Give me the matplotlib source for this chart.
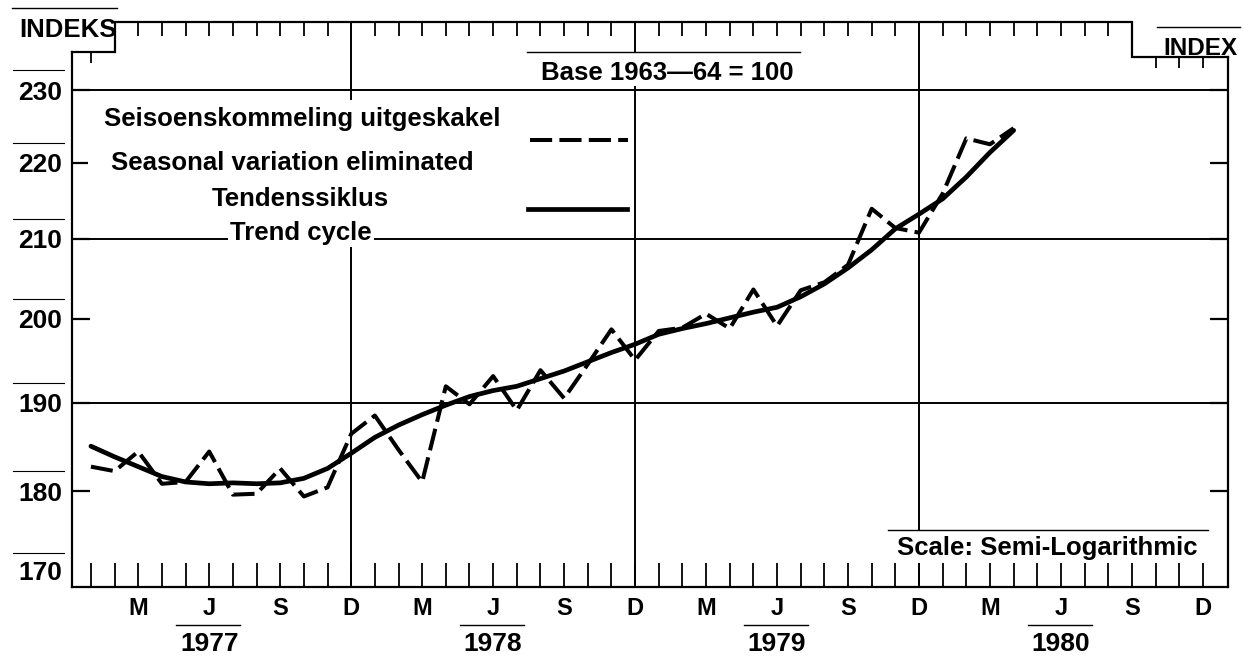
import numpy as np
import matplotlib
matplotlib.use("Agg")
import matplotlib.pyplot as plt
from matplotlib.lines import Line2D
from matplotlib.patches import Rectangle
from matplotlib.ticker import FixedLocator, FixedFormatter, NullLocator
from matplotlib.transforms import blended_transform_factory, offset_copy

# monthly index, Jan 1977 .. Apr 1980
seasonal = [182.7, 182.2, 184.4, 180.8, 181.0, 184.4, 179.6, 179.7, 182.5, 179.4, 180.4, 186.4,
            188.5, 184.6, 181.0, 191.9, 189.8, 193.1, 189.1, 193.8, 190.5, 194.5, 198.7, 195.0,
            198.5, 198.9, 200.6, 198.8, 203.6, 199.1, 203.5, 204.5, 206.7, 213.9, 211.4, 210.8,
            215.9, 223.3, 222.5, 224.7]
trend = [185.0, 183.8, 182.7, 181.6, 181.0, 180.8, 180.9, 180.8, 180.9, 181.4, 182.5, 184.2,
         186.0, 187.4, 188.6, 189.7, 190.7, 191.4, 191.9, 192.8, 193.7, 194.8, 195.9, 196.9,
         198.1, 198.8, 199.4, 200.1, 200.8, 201.4, 202.7, 204.3, 206.3, 208.6, 211.3, 213.2,
         215.2, 218.1, 221.4, 224.4]
months = np.arange(len(trend))

month_ticks = list(range(48))  # Jan 1977 .. Dec 1980
month_names = {2: "M", 5: "J", 8: "S", 11: "D"}
years = ["1977", "1978", "1979", "1980"]
y_ticks = [170, 180, 190, 200, 210, 220, 230]
grid_values = [190, 210, 230]
december_grid = [11, 23, 35]

plt.rcParams["font.family"] = ["Liberation Sans", "DejaVu Sans"]
plt.rcParams["font.weight"] = "bold"

W, H = 1245, 665
fig = plt.figure(figsize=(W / 100, H / 100), dpi=100)
ax = fig.add_axes([72 / W, 1 - 587.4 / H, 1156 / W, 565.6 / H])


def fx(px):
    return px / W


def fy(py):
    return 1 - py / H


x0, x1 = -0.8, 48.06
y0, y1 = 169.7, 239.8
left_top, right_top = 235.4, 234.7
step_l, step_r = 1, 44
ax.set_yscale("log")
ax.set_xlim(x0, x1)
ax.set_ylim(y0, y1)
k = 565.6 / np.log(y1 / y0)  # pixels per unit of ln(index)

# grid
for v in grid_values:
    ax.axhline(v, color="k", lw=1.4, zorder=1)
for m in december_grid:
    ax.axvline(m, color="k", lw=1.4, zorder=1)

# series
ax.plot(months, trend, color="k", lw=3.4, solid_joinstyle="round",
        solid_capstyle="round", zorder=4)
ax.plot(months, seasonal, color="k", lw=2.9, dashes=(5.5, 1.8), zorder=4)

# frame with stepped top
ax.spines["top"].set_visible(False)
for s in ax.spines.values():
    s.set_linewidth(1.6)
ax.spines["left"].set_bounds(y0, left_top)
ax.spines["right"].set_bounds(y0, right_top)
ax.plot([x0, step_l, step_l, step_r, step_r, x1],
        [left_top, left_top, y1, y1, right_top, right_top],
        color="k", lw=1.6, clip_on=False, solid_joinstyle="miter")

# month ticks hanging from the top
for m in month_ticks:
    if m in december_grid or m in (step_l, step_r):
        continue
    top = left_top if m < step_l else (right_top if m > step_r else y1)
    ln = 11 if top != y1 else 14
    ax.vlines(m, top * np.exp(-ln / k), top, color="k", lw=1.3, clip_on=False)

# bottom month ticks
ax.set_xticks(month_ticks)
ax.set_xticklabels([month_names.get(m % 12, "") for m in month_ticks])
ax.tick_params(axis="x", direction="in", length=17.5, width=1.3, pad=7, labelsize=17)

# y axis ("170" is set a little higher, as in the original)
ax.yaxis.set_major_locator(FixedLocator(y_ticks))
ax.yaxis.set_major_formatter(FixedFormatter(["" if v == 170 else str(v) for v in y_ticks]))
ax.yaxis.set_minor_locator(NullLocator())
ax.tick_params(axis="y", direction="in", length=13, width=1.6, pad=7,
               labelsize=19, right=True)
t170 = ax.yaxis.get_major_ticks()[0]
t170.tick1line.set_visible(False)
t170.tick2line.set_visible(False)
ax.text(-10 / 1156, y_ticks[0], str(y_ticks[0]), ha="right", va="center", fontsize=19,
        transform=offset_copy(ax.get_yaxis_transform(), fig=fig, y=12, units="dots"),
        clip_on=False)

# overlines above the y labels
ov = offset_copy(ax.get_yaxis_transform(), fig=fig, x=0, y=20, units="dots")
for v in y_ticks:
    lift = 12 if v == 170 else 0
    ax.plot([-59 / 1156, -8 / 1156], [v, v],
            transform=offset_copy(ov, fig=fig, y=lift, units="dots"),
            color="k", lw=0.8, clip_on=False)

# year labels under June
trans = blended_transform_factory(ax.transData, fig.transFigure)
for i, yr in enumerate(years):
    j = 5 + 12 * i
    ax.text(j, fy(651), yr, transform=trans, ha="center", va="baseline",
            fontsize=19, clip_on=False)
    ax.plot([j - 1.4, j + 1.3], [fy(625), fy(625)], transform=trans, color="k",
            lw=1.0, clip_on=False)

# white patches behind the pasted-on labels
for (a, b, c, d) in [(88, 100, 505, 228), (527, 52, 800, 86), (888, 530, 1208, 563)]:
    ax.add_patch(Rectangle((fx(a), fy(d)), fx(c) - fx(a), fy(b) - fy(d),
                           transform=fig.transFigure, facecolor="white",
                           edgecolor="none", zorder=3))

# legend
fig.text(fx(302), fy(126), "Seisoenskommeling uitgeskakel", ha="center",
         va="baseline", fontsize=18.5)
fig.text(fx(292), fy(170), "Seasonal variation eliminated", ha="center",
         va="baseline", fontsize=18.5)
fig.text(fx(300), fy(206), "Tendenssiklus", ha="center", va="baseline", fontsize=18.5)
fig.text(fx(301), fy(240), "Trend cycle", ha="center", va="baseline", fontsize=18.5,
         bbox=dict(facecolor="white", edgecolor="none", pad=1.5))
fig.add_artist(Line2D([fx(530), fx(628)], [fy(140), fy(140)], color="k", lw=2.9,
                      dashes=(5.5, 1.8)))
fig.add_artist(Line2D([fx(528), fx(627)], [fy(209), fy(209)], color="k", lw=3.4))

# other labels
fig.text(fx(667), fy(80), "Base 1963\u201464 = 100", ha="center", va="baseline",
         fontsize=18.5)
fig.text(fx(1047), fy(555), "Scale: Semi-Logarithmic", ha="center", va="baseline",
         fontsize=18.5)
fig.text(fx(68), fy(37), "INDEKS", ha="center", va="baseline", fontsize=18.5)
fig.text(fx(1200), fy(55), "INDEX", ha="center", va="baseline", fontsize=17.5)
for (a, b, y) in [(527, 800, 52), (888, 1208, 530), (12, 117, 8), (1157, 1240, 27)]:
    fig.add_artist(Line2D([fx(a), fx(b)], [fy(y), fy(y)], color="k", lw=1.0))

fig.savefig("out.png", dpi=100)
